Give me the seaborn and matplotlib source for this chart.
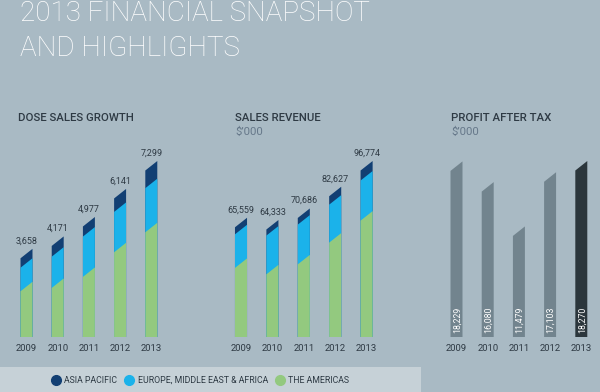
import matplotlib
matplotlib.use('Agg')
import matplotlib.pyplot as plt
import seaborn as sns
from matplotlib.patches import Polygon, Rectangle
from matplotlib.lines import Line2D

years = ['2009', '2010', '2011', '2012', '2013']

# dose sales (units), split by region
dose_total = [3658, 4171, 4977, 6141, 7299]
dose_americas = [2290, 2427, 2886, 3908, 4737]
dose_emea = [977, 1298, 1673, 1674, 1828]

# sales revenue $'000
rev_total = [65559, 64333, 70686, 82627, 96774]
rev_americas = [43210, 39680, 45150, 57120, 69220]
rev_emea = [18480, 21310, 21860, 20880, 22050]

# profit after tax $'000
profit = [18229, 16080, 11479, 17103, 18270]
profit_labels = ['18,229', '16,080', '11,479', '17,103', '18,270']

BG = '#a9bac4'
STRIP = '#c6d1d7'
NAVY = '#123f73'
CYAN = '#1bb2ea'
GREEN = '#93c97f'
GREY_BAR = '#72848e'
DARK_BAR = '#2b363c'
TXT = '#2e3a44'
SUB = '#66788a'

sns.set_style('white')
plt.rcParams['font.family'] = ['Roboto', 'DejaVu Sans']

fig = plt.figure(figsize=(6, 3.92), dpi=100, facecolor=BG)

bar_w = 0.384


def slant_bars(ax, frac=0.054):
    # turn the flat-topped bars into the slanted tops of the original
    s = frac * ax.get_ylim()[1]
    for p in list(ax.patches):
        x, w, h = p.get_x(), p.get_width(), p.get_height()
        fc = p.get_facecolor()
        p.remove()
        ax.add_patch(Polygon([(x, 0), (x + w, 0), (x + w, h), (x, h - s)],
                             closed=True, facecolor=fc, edgecolor='none'))


def style_axis(ax):
    ax.set_facecolor('none')
    sns.despine(ax=ax, left=True, bottom=True)
    ax.set_yticks([])
    ax.set_xlabel('')
    ax.set_ylabel('')
    ax.tick_params(axis='x', length=0, pad=5, labelsize=6.8, labelcolor=TXT)
    ax.set_xlim(-0.5, 4.5)


def stacked(ax, total, americas, emea):
    emea_am = [a + b for a, b in zip(americas, emea)]
    sns.barplot(x=years, y=total, color=NAVY, saturation=1, width=bar_w, ax=ax)
    sns.barplot(x=years, y=emea_am, color=CYAN, saturation=1, width=bar_w, ax=ax)
    sns.barplot(x=years, y=americas, color=GREEN, saturation=1, width=bar_w, ax=ax)
    ax.set_ylim(0, max(total))
    slant_bars(ax)
    style_axis(ax)
    for i, v in enumerate(total):
        ax.text(i, v + 0.02 * max(total), f'{v:,}', ha='center', va='bottom',
                fontsize=6.5, color=TXT, clip_on=False)


ax_h = 176 / 392
ax_b = 55 / 392

ax1 = fig.add_axes([10.9 / 600, ax_b, 156 / 600, ax_h])
stacked(ax1, dose_total, dose_americas, dose_emea)

ax2 = fig.add_axes([225.3 / 600, ax_b, 157 / 600, ax_h])
stacked(ax2, rev_total, rev_americas, rev_emea)

ax3 = fig.add_axes([440.9 / 600, ax_b, 156 / 600, ax_h])
sns.barplot(x=years, y=profit, hue=years, palette=[GREY_BAR] * 4 + [DARK_BAR],
            legend=False, saturation=1, width=bar_w, ax=ax3)
ax3.set_ylim(0, max(profit))
slant_bars(ax3)
style_axis(ax3)
for i, lab in enumerate(profit_labels):
    ax3.text(i + 0.02, 0.025 * max(profit), lab, rotation=90, ha='center', va='bottom',
             fontsize=6.3, color='white')

# titles
fig.text(20 / 600, 1 - 21 / 392, '2013 FINANCIAL SNAPSHOT', fontsize=20,
         color='white', fontweight='light', va='baseline')
fig.text(20 / 600, 1 - 56 / 392, 'AND HIGHLIGHTS', fontsize=20,
         color='white', fontweight='light', va='baseline')

for x, t, sub in [(18, 'DOSE SALES GROWTH', None), (235, 'SALES REVENUE', "$\u2019000"),
                  (451, 'PROFIT AFTER TAX', "$\u2019000")]:
    fig.text(x / 600, 1 - 121 / 392, t, fontsize=8.2, color=TXT, fontweight='medium',
             va='baseline')
    if sub:
        fig.text(x / 600, 1 - 135 / 392, sub, fontsize=8.2, color=SUB, va='baseline')

# legend strip
fig.patches.append(Rectangle((0, 0), 421 / 600, 25 / 392, transform=fig.transFigure,
                             facecolor=STRIP, edgecolor='none', zorder=0))
handles = [Line2D([], [], marker='o', ls='', markersize=7, color=c)
           for c in (NAVY, CYAN, GREEN)]
fig.legend(handles, ['ASIA PACIFIC', 'EUROPE, MIDDLE EAST & AFRICA', 'THE AMERICAS'],
           loc='center', bbox_to_anchor=(201 / 600, 11.5 / 392), ncol=3, frameon=False,
           fontsize=6.3, labelcolor=TXT, handletextpad=0.6, columnspacing=1.0,
           handlelength=0.7)

fig.savefig('out.png', dpi=100, facecolor=BG)
